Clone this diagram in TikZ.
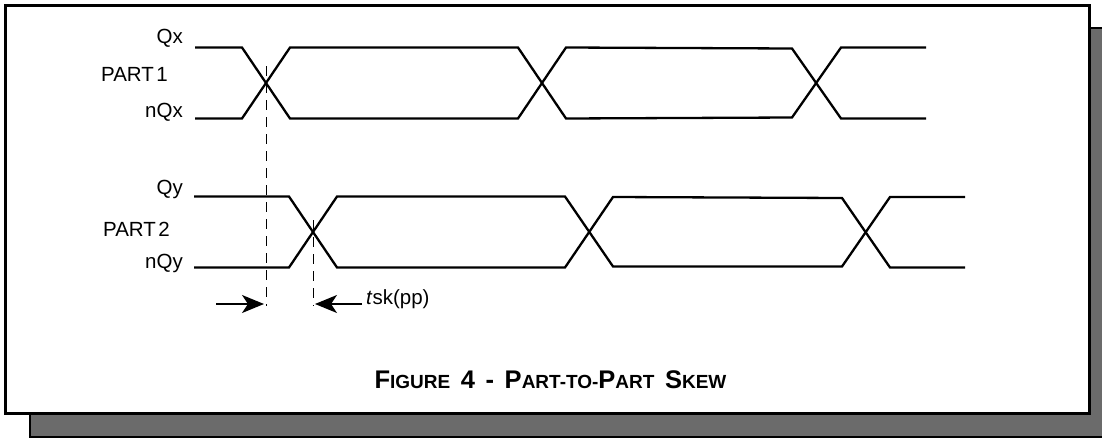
\documentclass[tikz,border=0pt]{standalone}
\usepackage{fontspec}
\setmainfont{Liberation Sans}
\usetikzlibrary{arrows.meta}
\newcommand{\capsbig}[1]{{\fontsize{25.5}{26}\selectfont #1}}
\newcommand{\capssmall}[1]{{\fontsize{19}{20}\selectfont #1}}
\begin{document}
\begin{tikzpicture}[x=1pt,y=-1pt,
    wave/.style={line width=2.3pt,line join=miter},
    label/.style={anchor=base east,inner sep=0pt,font=\fontsize{20.5}{21}\selectfont},
    guide/.style={line width=1pt,dash pattern=on 10pt off 7pt},
    skew/.style={line width=1.3pt,-{Stealth[length=22pt,width=18pt,inset=6pt]}}]
    \useasboundingbox (0,0) rectangle (1102,439);
    %% frame and shadow
    \draw[line width=2.4pt,fill=black!58] (30,28) rectangle (1106,437);
    \draw[line width=2.4pt,fill=white] (5.5,5.5) rectangle (1089.5,413.5);
    %% part 1
    \draw[wave] (195,47.5) -- (242,47.5) -- (290,118.5) -- (518,118.5) -- (566,47.5) -- (792,48.5) -- (841,118.5) -- (926,118.5);
    \draw[wave] (195,118.5) -- (242,118.5) -- (290,47.5) -- (518,47.5) -- (566,118.5) -- (792,117.5) -- (841,47.5) -- (926,47.5);
    %% part 2
    \draw[wave] (194,196.5) -- (289,196.5) -- (337,267.5) -- (565,267.5) -- (613,197) -- (842,198) -- (890,267.5) -- (965,267.5);
    \draw[wave] (194,267.5) -- (289,267.5) -- (337,196.5) -- (565,196.5) -- (613,266.5) -- (842,266.5) -- (890,197) -- (965,197);
    %% skew marks
    \coordinate (crossx) at (266,66);
    \coordinate (crossy) at (313,220);
    \coordinate (footx) at (266,306);
    \coordinate (footy) at (313,306);
    \coordinate (arrowl) at (216,304);
    \coordinate (arrowr) at (362,304);
    \draw[guide] (crossx) -- (footx);
    \draw[guide] (crossy) -- (footy);
    \draw[skew] (arrowl) -- (264,304);
    \draw[skew] (arrowr) -- (315,304);
    %% labels
    \node[label] (qx) at (183,43) {Qx};
    \node[label] (part1) at (168,81.5) {PART\kern2.5pt 1};
    \node[label] (nqx) at (183,117) {nQx};
    \node[label] (qy) at (183,194) {Qy};
    \node[label] (part2) at (170,236.5) {PART\kern2.5pt 2};
    \node[label] (nqy) at (183,268) {nQy};
    \node[label,anchor=base west] (tsk) at (366,304) {\textit{t}sk(pp)};
    \node[anchor=base,inner sep=0pt,font=\bfseries] (title) at (550.5,388)
        {\capsbig{F}\capssmall{IGURE}\capsbig{\kern3.5pt\ 4\kern3.5pt\ -\kern3.5pt\ P}\capssmall{ART-TO-}\capsbig{P}\capssmall{ART}\capsbig{\kern3.5pt\ S}\capssmall{KEW}};
\end{tikzpicture}
\end{document}
